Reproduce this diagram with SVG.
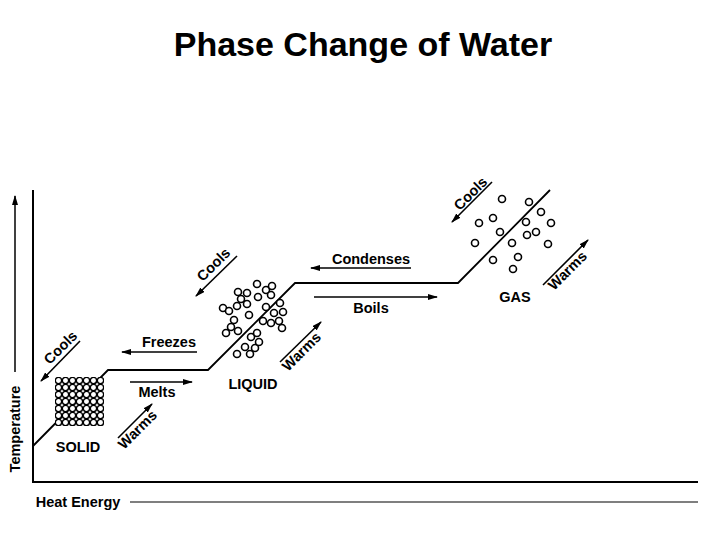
<svg xmlns="http://www.w3.org/2000/svg" width="720" height="540" viewBox="0 0 720 540">
<defs>
<marker id="ah" viewBox="0 0 10 6" refX="9" refY="3" markerWidth="10" markerHeight="6" markerUnits="userSpaceOnUse" orient="auto"><path d="M0,0 L10,3 L0,6 z" fill="#000"/></marker>
<pattern id="grid" x="55" y="377" width="7" height="7" patternUnits="userSpaceOnUse"><circle cx="3.5" cy="3.5" r="3.1" fill="#fff" stroke="#000" stroke-width="1.3"/></pattern>
</defs>
<style>
.t{font-family:"Liberation Sans",Arial,sans-serif;font-weight:bold;font-size:14.5px;fill:#000;text-anchor:middle}
.a{stroke:#000;stroke-width:1.6;fill:none;marker-end:url(#ah)}
.m circle{fill:#fff;stroke:#000;stroke-width:1.6}
</style>
<rect width="720" height="540" fill="#fff"/>
<text x="363" y="56" text-anchor="middle" font-family="Liberation Sans,Arial,sans-serif" font-weight="bold" font-size="34" fill="#000">Phase Change of Water</text>
<g id="axes" fill="none" stroke="#000">
<path d="M33,190 V482 H698" stroke-width="2"/>
<line x1="15" y1="372" x2="15" y2="196" stroke-width="1.5" marker-end="url(#ah)"/>
<line x1="130" y1="502" x2="698" y2="502" stroke-width="1.2"/>
</g>
<text class="t" transform="translate(20,429) rotate(-90)" font-size="15">Temperature</text>
<text class="t" x="78" y="507" font-size="14">Heat Energy</text>
<g id="curve"><path d="M33,446 L108,370 H208 L295,283 H458 L550,190" fill="none" stroke="#000" stroke-width="1.8"/></g>
<g id="solid"><rect x="55" y="377" width="49" height="49" fill="url(#grid)"/><text class="t" x="78" y="452">SOLID</text></g>
<g id="liquid" class="m">
<circle cx="257" cy="284" r="3.5"/><circle cx="238" cy="292" r="3.5"/><circle cx="247" cy="293" r="3.5"/><circle cx="266" cy="290" r="3.5"/><circle cx="272" cy="286" r="3.5"/><circle cx="271" cy="295" r="3.5"/><circle cx="258" cy="297" r="3.5"/><circle cx="241" cy="299" r="3.5"/><circle cx="237" cy="306" r="3.5"/><circle cx="247" cy="304" r="3.5"/><circle cx="223" cy="308" r="3.5"/><circle cx="229" cy="311" r="3.5"/><circle cx="266" cy="307" r="3.5"/><circle cx="249" cy="315" r="3.5"/><circle cx="280" cy="303" r="3.5"/><circle cx="283" cy="312" r="3.5"/><circle cx="274" cy="313" r="3.5"/><circle cx="263" cy="321" r="3.5"/><circle cx="271" cy="323" r="3.5"/><circle cx="279" cy="321" r="3.5"/><circle cx="234" cy="320" r="3.5"/><circle cx="231" cy="327" r="3.5"/><circle cx="226" cy="333" r="3.5"/><circle cx="238" cy="331" r="3.5"/><circle cx="282" cy="328" r="3.5"/><circle cx="251" cy="337" r="3.5"/><circle cx="257" cy="333" r="3.5"/><circle cx="245" cy="347" r="3.5"/><circle cx="255" cy="348" r="3.5"/><circle cx="237" cy="354" r="3.5"/><circle cx="250" cy="354" r="3.5"/><circle cx="259" cy="342" r="3.5"/>
<text class="t" x="253" y="389" style="stroke:none">LIQUID</text>
</g>
<g id="gas" class="m">
<circle cx="502" cy="199" r="3.5"/><circle cx="529" cy="202" r="3.5"/><circle cx="541" cy="212" r="3.5"/><circle cx="551" cy="223" r="3.5"/><circle cx="493" cy="218" r="3.5"/><circle cx="479" cy="223" r="3.5"/><circle cx="526" cy="222" r="3.5"/><circle cx="500" cy="232" r="3.5"/><circle cx="536" cy="232" r="3.5"/><circle cx="527" cy="235" r="3.5"/><circle cx="475" cy="243" r="3.5"/><circle cx="512" cy="243" r="3.5"/><circle cx="548" cy="244" r="3.5"/><circle cx="518" cy="257" r="3.5"/><circle cx="493" cy="260" r="3.5"/><circle cx="513" cy="269" r="3.5"/>
<text class="t" x="515" y="302" style="stroke:none">GAS</text>
</g>
<g id="connectors">
<line class="a" x1="80" y1="341" x2="41" y2="381"/>
<line class="a" x1="197" y1="352" x2="122" y2="352"/>
<line class="a" x1="130" y1="382" x2="192" y2="382"/>
<line class="a" x1="118" y1="438" x2="152" y2="404"/>
<line class="a" x1="237" y1="256" x2="196" y2="296"/>
<line class="a" x1="280" y1="362" x2="321" y2="322"/>
<line class="a" x1="411" y1="268" x2="311" y2="268"/>
<line class="a" x1="314" y1="297" x2="437" y2="297"/>
<line class="a" x1="492" y1="182" x2="452" y2="222"/>
<line class="a" x1="543" y1="285" x2="588" y2="240"/>
</g>
<g id="labels">
<text class="t" transform="translate(64,351) rotate(-45)">Cools</text>
<text class="t" x="169" y="347">Freezes</text>
<text class="t" x="157" y="397">Melts</text>
<text class="t" transform="translate(141,433) rotate(-45)">Warms</text>
<text class="t" transform="translate(217,268) rotate(-45)">Cools</text>
<text class="t" transform="translate(305,355) rotate(-45)">Warms</text>
<text class="t" x="371" y="264">Condenses</text>
<text class="t" x="371" y="313">Boils</text>
<text class="t" transform="translate(474,197) rotate(-45)">Cools</text>
<text class="t" transform="translate(571,274) rotate(-45)">Warms</text>
</g>
</svg>
